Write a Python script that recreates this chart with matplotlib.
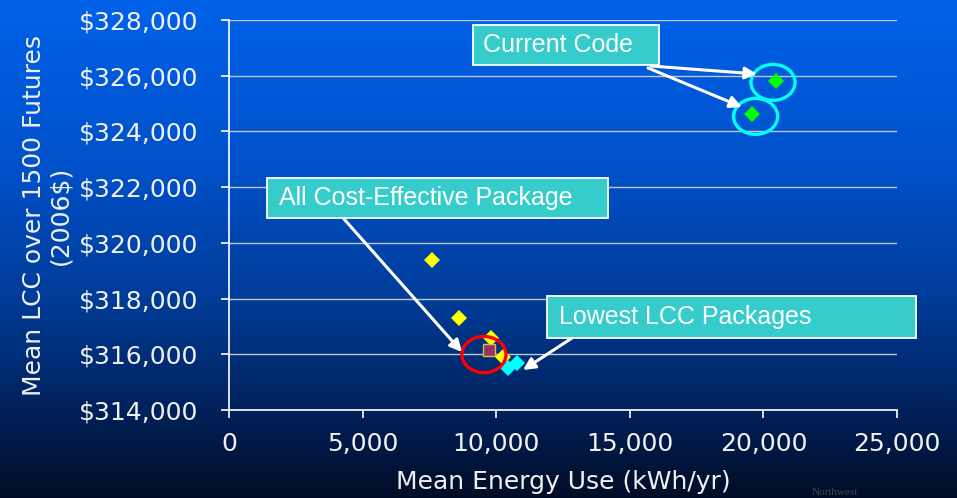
import numpy as np
import matplotlib
matplotlib.use("Agg")
import matplotlib.pyplot as plt
from matplotlib.colors import LinearSegmentedColormap
from matplotlib.patches import Ellipse, Rectangle
from matplotlib.ticker import FuncFormatter

# Package results: mean energy use (kWh/yr) and mean LCC over 1500 futures (2006$)
other_energy = [7600, 8600, 9790, 10270]
other_lcc = [319390, 317290, 316570, 315910]

lowest_energy = [10450, 10790]
lowest_lcc = [315520, 315680]

allce_energy = [9740]
allce_lcc = [316150]

code_energy = [20470, 19560]
code_lcc = [325820, 324630]

x_ticks = [0, 5000, 10000, 15000, 20000, 25000]
y_ticks = [314000, 316000, 318000, 320000, 322000, 324000, 326000, 328000]

W, H = 957, 498
fig = plt.figure(figsize=(W / 100, H / 100), dpi=100)

# slide-style vertical gradient background
bg = fig.add_axes([0, 0, 1, 1], zorder=-10)
grad_cmap = LinearSegmentedColormap.from_list(
    "slide", [(0.0, "#0062ea"), (0.35, "#0050c8"), (0.6, "#003c98"),
              (0.8, "#002462"), (1.0, "#000d26")])
bg.imshow(np.linspace(0, 1, 256).reshape(-1, 1), aspect="auto", cmap=grad_cmap,
          extent=[0, 1, 0, 1], origin="upper")
bg.set_axis_off()

ax = fig.add_axes([229 / W, 1 - 410 / H, (897 - 229) / W, (410 - 20) / H])
ax.patch.set_alpha(0)
ax.set_xlim(0, 25000)
ax.set_ylim(314000, 328000)
ax.set_xticks(x_ticks)
ax.set_yticks(y_ticks)
ax.xaxis.set_major_formatter(FuncFormatter(lambda v, p: f"{int(v):,}"))
ax.yaxis.set_major_formatter(FuncFormatter(lambda v, p: f"${int(v):,}"))

for s in ["top", "right"]:
    ax.spines[s].set_visible(False)
for s in ["left", "bottom"]:
    ax.spines[s].set_color("white")
    ax.spines[s].set_linewidth(1.2)
ax.grid(axis="y", color="#c0c8d8", linewidth=1.0, zorder=0)
ax.set_axisbelow(True)
ax.tick_params(axis="both", colors="white", length=6, width=1.2, direction="out",
               labelsize=18)
ax.tick_params(axis="y", pad=16)
ax.tick_params(axis="x", pad=10)
for lbl in ax.get_xticklabels() + ax.get_yticklabels():
    lbl.set_color("#f0f0f0")

ax.set_xlabel("Mean Energy Use (kWh/yr)", fontsize=18, color="#f0f0f0")
ax.xaxis.set_label_coords(0.5, -0.155)
ax.set_ylabel("Mean LCC over 1500 Futures\n(2006$)", fontsize=18, color="#f0f0f0",
              linespacing=1.15)
ax.yaxis.set_label_coords(-0.234, 0.5)

# data markers
ax.plot(other_energy, other_lcc, "D", color="#ffff00", markersize=8.5,
        markeredgewidth=0, zorder=3)
ax.plot(lowest_energy, lowest_lcc, "D", color="#00ffff", markersize=8.5,
        markeredgewidth=0, zorder=4)
ax.plot(allce_energy, allce_lcc, "s", color="#993366", markersize=8.5,
        markeredgecolor="#d8c040", markeredgewidth=1.0, zorder=5)
ax.plot(code_energy, code_lcc, "D", color="#00ff00", markersize=8.5,
        markeredgewidth=0, zorder=4)

# highlight ellipses
ell_w, ell_h = 1650, 1290
for cx, cy in [(20360, 325760), (19710, 324540)]:
    ax.add_patch(Ellipse((cx, cy), ell_w, ell_h, fill=False, edgecolor="#00ffff",
                         linewidth=2.4, zorder=6))
ax.add_patch(Ellipse((9540, 315990), ell_w, 1300, fill=False, edgecolor="#ff0000",
                     linewidth=2.4, zorder=6))

# callout boxes (pixel layout converted to figure fraction)
def callout(x0, y0, x1, y1, text, inset):
    r = Rectangle((x0 / W, 1 - y1 / H), (x1 - x0) / W, (y1 - y0) / H,
                  transform=fig.transFigure, facecolor="#36cccc",
                  edgecolor="white", linewidth=1.3, zorder=10)
    fig.add_artist(r)
    fig.text((x0 + inset) / W, 1 - (y0 + y1) / 2 / H, text, ha="left", va="center",
             fontsize=18, color="white", family="Liberation Sans", zorder=11)

callout(473, 25, 659, 65, "Current Code", 10)
callout(267, 178, 608, 218, "All Cost-Effective Package", 12)
callout(547, 296, 916, 338, "Lowest LCC Packages", 12)

def arrow(xp, yp, tx, ty):
    ax.annotate("", xy=(xp, yp), xycoords="figure pixels",
                xytext=(tx, ty), textcoords="figure pixels",
                arrowprops=dict(arrowstyle="-|>,head_length=0.7,head_width=0.35",
                                color="white", lw=2.2, shrinkA=0, shrinkB=0),
                zorder=9, annotation_clip=False)

arrow(757, H - 74, 651, H - 66)
arrow(742, H - 107, 648, H - 68)
arrow(462, H - 352, 344, H - 219)
arrow(523, H - 370, 572, H - 338)

fig.text(812 / W, 3 / H, "Northwest", fontsize=8, color="#8090a8", alpha=0.45,
         family="Liberation Serif")

fig.savefig("out.png", dpi=100)
